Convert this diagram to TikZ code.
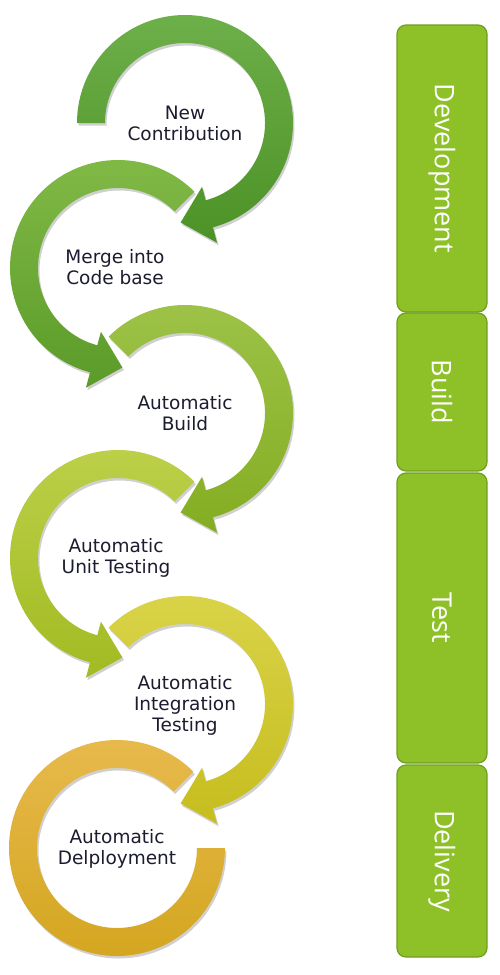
\documentclass[tikz,border=0pt]{standalone}
\usepackage{fontspec}
\setmainfont{DejaVu Sans}
\newfontfamily\boxfont{Open Sans}
\usetikzlibrary{calc,shadows}
\definecolor{c1top}{HTML}{6DAF49}
\definecolor{c1bot}{HTML}{4C9226}
\definecolor{c2top}{HTML}{82BA47}
\definecolor{c2bot}{HTML}{5B9B29}
\definecolor{c3top}{HTML}{9EC349}
\definecolor{c3bot}{HTML}{84AD22}
\definecolor{c4top}{HTML}{BDD04A}
\definecolor{c4bot}{HTML}{A2BB22}
\definecolor{c5top}{HTML}{DAD44A}
\definecolor{c5bot}{HTML}{C6BD1E}
\definecolor{c6top}{HTML}{E8BA4E}
\definecolor{c6bot}{HTML}{D3A51E}
\definecolor{boxgreen}{HTML}{8DC127}
\definecolor{boxedge}{HTML}{6F9F1F}
\definecolor{labeltext}{HTML}{1C1C30}
\tikzset{
  ring/.style={drop shadow={opacity=0.3, fill=black!60, shadow xshift=1.5pt, shadow yshift=-2.5pt}, shading angle=0},
  steplabel/.style={align=center, text=labeltext, font=\fontsize{18.5}{21}\selectfont, inner sep=0pt},
  stagebox/.style={rounded corners=9pt, fill=boxgreen, draw=boxedge, line width=1.2pt,
    text=white, font=\boxfont\fontsize{27}{30}\selectfont, rotate=-90,
    minimum height=90pt, inner sep=0pt}
}
% clockwise ring arrow: center, start angle, end angle, top colour, bottom colour
\newcommand\cwringarrow[5]{%
  \path[ring, top color=#4, bottom color=#5]
    ($(#1)+(#2:108)$) arc[start angle=#2, end angle=#3, radius=108]
    -- ($(#1)+(#3:124)$) -- ($(#1)+(#3:95)+(#3-90:30)$) -- ($(#1)+(#3:66)$)
    -- ($(#1)+(#3:80)$) arc[start angle=#3, end angle=#2, radius=80] -- cycle;}
% counter-clockwise ring arrow
\newcommand\ccwringarrow[5]{%
  \path[ring, top color=#4, bottom color=#5]
    ($(#1)+(#2:108)$) arc[start angle=#2, end angle=#3, radius=108]
    -- ($(#1)+(#3:124)$) -- ($(#1)+(#3:95)+(#3+90:30)$) -- ($(#1)+(#3:66)$)
    -- ($(#1)+(#3:80)$) arc[start angle=#3, end angle=#2, radius=80] -- cycle;}
\begin{document}
\begin{tikzpicture}[x=1pt,y=1pt]
\useasboundingbox (0,0) rectangle (500,-975);
\fill[white] (0,0) rectangle (500,-975);
\coordinate (c1) at (185,-123);
\coordinate (c2) at (118,-268);
\coordinate (c3) at (185,-413);
\coordinate (c4) at (118,-558);
\coordinate (c5) at (185,-704);
\coordinate (c6) at (117,-848);

\cwringarrow{c1}{180}{-75}{c1top}{c1bot}
\ccwringarrow{c2}{45}{255}{c2top}{c2bot}
\cwringarrow{c3}{135}{-75}{c3top}{c3bot}
\ccwringarrow{c4}{45}{255}{c4top}{c4bot}
\cwringarrow{c5}{135}{-75}{c5top}{c5bot}
\path[ring, top color=c6top, bottom color=c6bot]
  ($(c6)+(45:108)$) arc[start angle=45, end angle=360, radius=108]
  -- ($(c6)+(0:80)$) arc[start angle=360, end angle=45, radius=80] -- cycle;

\node[steplabel] (t1) at (c1) {New\\Contribution};
\node[steplabel] (t2) at (115,-267) {Merge into\\Code base};
\node[steplabel] (t3) at (c3) {Automatic\\Build};
\node[steplabel] (t4) at (116,-558) {Automatic\\Unit Testing};
\node[steplabel] (t5) at (185,-705) {Automatic\\Integration\\Testing};
\node[steplabel] (t6) at (117,-849) {Automatic\\Delployment};

\node[stagebox, minimum width=287pt] (dev) at (442,-168.5) {Development};
\node[stagebox, minimum width=158pt] (build) at (442,-392) {Build};
\node[stagebox, minimum width=290pt] (test) at (442,-618) {Test};
\node[stagebox, minimum width=192pt] (deliv) at (442,-861) {Delivery};
\end{tikzpicture}
\end{document}
